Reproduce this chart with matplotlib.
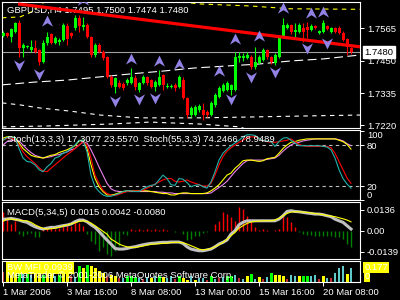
import matplotlib
matplotlib.use("Agg")
import matplotlib.pyplot as plt
import matplotlib.transforms as mtransforms
from matplotlib.path import Path

plt.rcParams['font.family'] = ['Liberation Sans', 'DejaVu Sans']
FS = 6.8

# GBPUSD H4 candles
opens = [1.7538, 1.7548, 1.7534, 1.7552, 1.7584, 1.7495, 1.7499, 1.7488, 1.7495, 1.7488,
         1.7445, 1.7513, 1.7545, 1.7513, 1.7516, 1.7523, 1.7573, 1.7548, 1.7566, 1.7602,
         1.7570, 1.7577, 1.7534, 1.7470, 1.7506, 1.7481, 1.7463, 1.7392, 1.7357, 1.7371,
         1.7367, 1.7371, 1.7371, 1.7389, 1.7346, 1.7371, 1.7392, 1.7381, 1.7357, 1.7364,
         1.7399, 1.7357, 1.7357, 1.7364, 1.7357, 1.7381, 1.7318, 1.7257, 1.7257, 1.7275,
         1.7275, 1.7268, 1.7257, 1.7293, 1.7321, 1.7342, 1.7346, 1.7346, 1.7346, 1.7460,
         1.7460, 1.7460, 1.7463, 1.7428, 1.7442, 1.7452, 1.7488, 1.7463, 1.7442, 1.7463,
         1.7534, 1.7566, 1.7577, 1.7552, 1.7552, 1.7566, 1.7570, 1.7559, 1.7573, 1.7548,
         1.7552, 1.7573, 1.7552, 1.7566, 1.7566, 1.7548, 1.7527, 1.7495]
highs = [1.7555, 1.7552, 1.7566, 1.7587, 1.7594, 1.7513, 1.7506, 1.7523, 1.7523, 1.7492,
         1.7523, 1.7552, 1.7548, 1.7538, 1.7531, 1.7584, 1.7584, 1.7552, 1.7612, 1.7612,
         1.7605, 1.7584, 1.7538, 1.7513, 1.7513, 1.7488, 1.7467, 1.7399, 1.7392, 1.7381,
         1.7374, 1.7389, 1.7424, 1.7399, 1.7374, 1.7399, 1.7396, 1.7385, 1.7381, 1.7417,
         1.7403, 1.7371, 1.7367, 1.7371, 1.7399, 1.7392, 1.7321, 1.7289, 1.7293, 1.7296,
         1.7300, 1.7275, 1.7307, 1.7335, 1.7360, 1.7371, 1.7378, 1.7367, 1.7481, 1.7481,
         1.7477, 1.7481, 1.7470, 1.7499, 1.7470, 1.7495, 1.7492, 1.7467, 1.7477, 1.7538,
         1.7602, 1.7584, 1.7580, 1.7584, 1.7584, 1.7584, 1.7587, 1.7580, 1.7577, 1.7559,
         1.7594, 1.7577, 1.7570, 1.7570, 1.7573, 1.7555, 1.7531, 1.7500]
lows = [1.7534, 1.7534, 1.7516, 1.7548, 1.7463, 1.7463, 1.7495, 1.7481, 1.7477, 1.7435,
        1.7442, 1.7506, 1.7509, 1.7509, 1.7506, 1.7520, 1.7506, 1.7531, 1.7559, 1.7552,
        1.7559, 1.7531, 1.7463, 1.7463, 1.7477, 1.7452, 1.7389, 1.7357, 1.7335, 1.7353,
        1.7346, 1.7364, 1.7367, 1.7346, 1.7340, 1.7367, 1.7364, 1.7353, 1.7343, 1.7360,
        1.7346, 1.7353, 1.7353, 1.7343, 1.7353, 1.7314, 1.7247, 1.7250, 1.7253, 1.7268,
        1.7240, 1.7250, 1.7253, 1.7286, 1.7318, 1.7339, 1.7342, 1.7328, 1.7342, 1.7445,
        1.7449, 1.7456, 1.7421, 1.7421, 1.7438, 1.7449, 1.7456, 1.7438, 1.7435, 1.7460,
        1.7531, 1.7563, 1.7545, 1.7534, 1.7548, 1.7516, 1.7531, 1.7555, 1.7563, 1.7545,
        1.7548, 1.7559, 1.7548, 1.7548, 1.7545, 1.7520, 1.7470, 1.7474]
closes = [1.7548, 1.7538, 1.7563, 1.7584, 1.7495, 1.7506, 1.7502, 1.7499, 1.7481, 1.7445,
          1.7513, 1.7534, 1.7513, 1.7531, 1.7523, 1.7577, 1.7527, 1.7538, 1.7602, 1.7573,
          1.7577, 1.7534, 1.7470, 1.7506, 1.7481, 1.7460, 1.7392, 1.7364, 1.7389, 1.7357,
          1.7353, 1.7381, 1.7392, 1.7357, 1.7371, 1.7392, 1.7371, 1.7357, 1.7374, 1.7392,
          1.7364, 1.7360, 1.7360, 1.7353, 1.7392, 1.7318, 1.7257, 1.7282, 1.7286, 1.7289,
          1.7257, 1.7257, 1.7300, 1.7328, 1.7353, 1.7364, 1.7371, 1.7364, 1.7463, 1.7467,
          1.7467, 1.7470, 1.7428, 1.7445, 1.7463, 1.7488, 1.7463, 1.7445, 1.7470, 1.7531,
          1.7577, 1.7577, 1.7552, 1.7559, 1.7577, 1.7552, 1.7559, 1.7573, 1.7566, 1.7555,
          1.7584, 1.7563, 1.7566, 1.7552, 1.7548, 1.7523, 1.7499, 1.7480]

# fractals (bar index, price)
frac_up_i = [11, 20, 32, 39, 44, 54, 58, 64, 70, 77, 80]
frac_up_p = [1.7587, 1.7662, 1.7452, 1.7445, 1.7435, 1.7410, 1.7523, 1.7534, 1.7634, 1.7616, 1.7619]
frac_dn_i = [4, 9, 28, 34, 38, 57, 62, 68, 76, 81]
frac_dn_p = [1.7438, 1.7406, 1.7311, 1.7318, 1.7321, 1.7318, 1.7396, 1.7413, 1.7499, 1.7516]

# trend line and bands
trend_i = [3.75, 89.25]
trend_p = [1.7651, 1.7499]
upper_i = [-0.25, 4.25, 6.75, 9.25, 12.0, 31.0, 49.25, 61.75, 71.75, 89.25]
upper_p = [1.7602, 1.7605, 1.7620, 1.7645, 1.7680, 1.7680, 1.7651, 1.7644, 1.7634, 1.7632]
mid_i = [-0.25, 8, 16, 24, 32, 40, 48, 56, 64, 72, 80, 89.25]
mid_p = [1.7364, 1.7374, 1.7381, 1.7392, 1.7403, 1.7413, 1.7424, 1.7431, 1.7438, 1.7449, 1.7456, 1.7470]
low1_i = [-0.25, 4.25, 9.25, 16.75, 24.25, 34.25, 49.25, 61.75, 76.75, 89.25]
low1_p = [1.7300, 1.7293, 1.7282, 1.7271, 1.7257, 1.7247, 1.7247, 1.7250, 1.7254, 1.7257]
low2_i = [-0.25, 10.5, 26.75, 36.75, 49.25, 59.25, 62.0]
low2_p = [1.7215, 1.7218, 1.7225, 1.7232, 1.7225, 1.7215, 1.7200]
last_price = 1.7480
price_ticks = [1.7565, 1.7450, 1.7335, 1.7220]

# stochastics
stoch13_main = [87, 91, 92, 91, 75, 61, 56, 55, 51, 44,
                41, 48, 53, 61, 63, 68, 70, 75, 80, 87,
                87, 70, 36, 19, 12, 7, 5, 5, 7, 9,
                12, 13, 13, 12, 12, 16, 19, 21, 22, 29,
                36, 31, 22, 21, 31, 30, 25, 19, 21, 22,
                19, 17, 26, 41, 58, 68, 74, 79, 83, 87,
                92, 95, 95, 94, 90, 86, 86, 85, 78, 85,
                90, 91, 87, 83, 79, 79, 79, 79, 79, 79,
                78, 77, 73, 61, 44, 31, 23, 17]
stoch13_sig = [87, 90, 91, 87, 80, 70, 63, 58, 53, 47,
               42, 41, 46, 51, 56, 61, 66, 70, 75, 80,
               85, 80, 61, 36, 24, 14, 9, 7, 6, 8,
               10, 12, 13, 13, 13, 14, 17, 20, 23, 26,
               29, 31, 31, 27, 26, 27, 29, 26, 24, 22,
               20, 20, 24, 36, 51, 63, 71, 76, 80, 84,
               87, 91, 92, 92, 90, 86, 85, 84, 84, 85,
               86, 87, 89, 85, 81, 79, 78, 78, 78, 78,
               78, 78, 76, 68, 56, 44, 32, 24]
stoch55_main = [90, 92, 92, 91, 83, 75, 70, 65, 63, 62,
                61, 63, 65, 66, 69, 71, 73, 76, 79, 86,
                87, 75, 51, 31, 19, 12, 7, 7, 8, 10,
                12, 13, 13, 13, 13, 13, 13, 12, 11, 10,
                9, 9, 7, 7, 9, 10, 10, 9, 9, 9,
                9, 10, 13, 17, 22, 29, 36, 39, 46, 51,
                57, 58, 58, 57, 56, 57, 60, 61, 62, 68,
                75, 80, 84, 85, 87, 88, 89, 89, 89, 89,
                89, 89, 89, 89, 87, 85, 81, 74]
stoch55_sig = [80, 85, 87, 87, 86, 80, 74, 69, 65, 63,
               61, 62, 63, 65, 66, 68, 70, 73, 75, 80,
               84, 83, 73, 61, 48, 36, 24, 16, 13, 12,
               12, 12, 12, 12, 12, 12, 12, 12, 12, 11,
               11, 10, 10, 9, 9, 9, 9, 9, 9, 9,
               9, 9, 10, 14, 18, 22, 27, 34, 41, 47,
               53, 57, 58, 58, 58, 58, 59, 60, 61, 65,
               71, 76, 80, 83, 84, 86, 87, 88, 89, 89,
               89, 89, 89, 89, 88, 86, 82, 79]

# MACD(5,34,5)
macd_hist = [0.0120, 0.0087, 0.0044, 0.0065, -0.0022, -0.0033, -0.0022, -0.0017, -0.0039, -0.0044,
             0.0011, 0.0017, 0.0022, 0.0011, 0.0017, 0.0033, 0.0044, 0.0033, 0.0055, 0.0048,
             0.0033, -0.0022, -0.0065, -0.0087, -0.0131, -0.0109, -0.0153, -0.0164, -0.0131, -0.0098,
             -0.0022, -0.0026, 0.0011, 0.0007, 0.0011, 0.0004, 0.0009, 0.0004, 0.0011, 0.0007,
             0.0011, 0.0004, -0.0004, -0.0007, -0.0004, -0.0022, -0.0061, -0.0055, -0.0033, -0.0033,
             -0.0017, -0.0011, -0.0004, 0.0044, 0.0065, 0.0120, 0.0109, 0.0087, 0.0065, 0.0153,
             0.0142, 0.0098, 0.0055, 0.0022, 0.0004, 0.0011, 0.0004, -0.0004, 0.0004, 0.0011,
             0.0109, 0.0087, 0.0055, 0.0022, -0.0011, -0.0022, -0.0026, -0.0031, -0.0033, -0.0033,
             -0.0033, -0.0033, -0.0037, -0.0039, -0.0044, -0.0055, -0.0087, -0.0109]
macd_main = [0.0076, 0.0076, 0.0081, 0.0076, 0.0070, 0.0061, 0.0055, 0.0039, 0.0026, 0.0017,
             0.0011, 0.0017, 0.0022, 0.0022, 0.0028, 0.0033, 0.0037, 0.0044, 0.0059, 0.0070,
             0.0070, 0.0059, 0.0039, 0.0022, -0.0004, -0.0033, -0.0061, -0.0087, -0.0116, -0.0120,
             -0.0120, -0.0116, -0.0109, -0.0105, -0.0098, -0.0092, -0.0087, -0.0083, -0.0081, -0.0078,
             -0.0076, -0.0076, -0.0074, -0.0074, -0.0074, -0.0083, -0.0105, -0.0120, -0.0126, -0.0131,
             -0.0131, -0.0126, -0.0120, -0.0105, -0.0087, -0.0076, -0.0061, -0.0022, 0.0000, 0.0039,
             0.0055, 0.0065, 0.0065, 0.0065, 0.0065, 0.0065, 0.0065, 0.0065, 0.0065, 0.0076,
             0.0098, 0.0126, 0.0131, 0.0126, 0.0124, 0.0120, 0.0116, 0.0113, 0.0109, 0.0109,
             0.0105, 0.0098, 0.0092, 0.0076, 0.0065, 0.0055, 0.0033, 0.0011]
macd_signal = [0.0061, 0.0076, 0.0076, 0.0072, 0.0070, 0.0065, 0.0065, 0.0055, 0.0039, 0.0026,
               0.0015, 0.0011, 0.0013, 0.0017, 0.0022, 0.0031, 0.0037, 0.0044, 0.0052, 0.0061,
               0.0065, 0.0061, 0.0050, 0.0033, 0.0015, -0.0004, -0.0022, -0.0055, -0.0070, -0.0087,
               -0.0098, -0.0105, -0.0109, -0.0109, -0.0105, -0.0100, -0.0094, -0.0089, -0.0087, -0.0085,
               -0.0083, -0.0081, -0.0078, -0.0076, -0.0076, -0.0078, -0.0087, -0.0098, -0.0109, -0.0120,
               -0.0126, -0.0122, -0.0116, -0.0105, -0.0092, -0.0076, -0.0055, -0.0033, -0.0011, 0.0017,
               0.0033, 0.0048, 0.0057, 0.0061, 0.0063, 0.0065, 0.0065, 0.0065, 0.0070, 0.0081,
               0.0098, 0.0113, 0.0122, 0.0124, 0.0124, 0.0122, 0.0120, 0.0116, 0.0113, 0.0109,
               0.0105, 0.0100, 0.0096, 0.0092, 0.0085, 0.0078, 0.0070, 0.0058]

# BW MFI
mfi_vals = [0.09, 0.08, 0.10, 0.09, 0.17, 0.07, 0.08, 0.06, 0.09, 0.10,
            0.06, 0.07, 0.08, 0.05, 0.06, 0.09, 0.07, 0.05, 0.04, 0.142,
            0.127, 0.158, 0.142, 0.127, 0.096, 0.081, 0.050, 0.065, 0.050, 0.034,
            0.034, 0.050, 0.056, 0.043, 0.034, 0.025, 0.043, 0.034, 0.050, 0.056,
            0.043, 0.034, 0.050, 0.025, 0.050, 0.034, 0.019, 0.050, 0.012, 0.034,
            0.034, 0.019, 0.056, 0.025, 0.034, 0.043, 0.050, 0.056, 0.065, 0.034,
            0.025, 0.056, 0.074, 0.025, 0.043, 0.025, 0.043, 0.081, 0.065, 0.065,
            0.056, 0.025, 0.065, 0.050, 0.056, 0.050, 0.056, 0.056, 0.065, 0.025,
            0.056, 0.034, 0.034, 0.081, 0.127, 0.142, 0.074, 0.127]
mfi_kind = ("ryyygbgbyy" "gyybgyyrbg" "ygyyyyryyr" "bgggbrbybg" "ybbrgyybyb"
            "brgbrbggbr" "bygbyrbgyy" "yrbbyggbbr" "ybrbbbyb")

tick_idx = [0, 16, 32, 48, 64, 80]
tick_labels = ['1 Mar 2006', '3 Mar 16:00', '8 Mar 08:00', '13 Mar 00:00', '15 Mar 16:00', '20 Mar 08:00']

n = len(closes)
idx = list(range(n))

fig = plt.figure(figsize=(4, 3), dpi=100, facecolor='black')


def panel(top, bottom):
    ax = fig.add_axes([2 / 400, (300 - bottom) / 300, 358 / 400, (bottom - top) / 300])
    ax.set_facecolor('black')
    for s in ax.spines.values():
        s.set_color('white')
        s.set_linewidth(0.8)
    ax.set_xlim(-0.25, 89.25)
    ax.tick_params(axis='x', bottom=False, labelbottom=False)
    ax.yaxis.tick_right()
    ax.tick_params(axis='y', colors='white', labelsize=FS, length=3, width=0.7, pad=2)
    return ax


ax1 = panel(2, 128)
ax2 = panel(130, 200)
ax3 = panel(202, 259)
ax4 = panel(261, 282)

# main chart
ax1.set_ylim(1.7211, 1.7658)
ax1.set_yticks(price_ticks)
ax1.set_yticklabels(['%.4f' % p for p in price_ticks])
ax1.axhline(last_price, color='#a0a0a0', lw=0.8, zorder=1)
ax1.plot(upper_i, upper_p, color='#ffff00', lw=0.8, ls=(0, (4, 4)), zorder=2)
ax1.plot(mid_i, mid_p, color='white', lw=0.8, ls=(0, (8, 4)), zorder=2)
ax1.plot(low1_i, low1_p, color='white', lw=0.8, ls=(0, (4, 4)), zorder=2)
ax1.plot(low2_i, low2_p, color='white', lw=0.8, ls=(0, (4, 4)), zorder=2)

for i in idx:
    col = '#00ff00' if closes[i] >= opens[i] else '#ff0000'
    ax1.vlines(i, lows[i], highs[i], color=col, lw=0.8, zorder=3)
    lo = min(opens[i], closes[i])
    h = max(abs(closes[i] - opens[i]), 0.0003)
    ax1.bar(i, h, bottom=lo, width=0.75, color=col, linewidth=0, zorder=3)

ax1.text(0.014, 0.935, 'GBPUSD,H4 1.7495 1.7500 1.7474 1.7480', transform=ax1.transAxes,
         color='white', fontsize=FS, va='center', zorder=2)
ax1.plot(trend_i, trend_p, color='#ff0000', lw=2.3, zorder=4, solid_capstyle='butt')

up_arrow = Path([(0, 1), (0.8, -0.6), (0, -0.1), (-0.8, -0.6), (0, 1)],
                [Path.MOVETO, Path.LINETO, Path.LINETO, Path.LINETO, Path.CLOSEPOLY])
dn_arrow = Path([(0, -1), (0.8, 0.6), (0, 0.1), (-0.8, 0.6), (0, -1)],
                [Path.MOVETO, Path.LINETO, Path.LINETO, Path.LINETO, Path.CLOSEPOLY])
ax1.plot(frac_up_i, frac_up_p, ls='none', marker=up_arrow, ms=10, color='#9282e6', mec='none', zorder=5)
ax1.plot(frac_dn_i, frac_dn_p, ls='none', marker=dn_arrow, ms=10, color='#9282e6', mec='none', zorder=5)

tr1 = mtransforms.blended_transform_factory(ax1.transAxes, ax1.transData)
ax1.text(1.012, last_price, '%.4f' % last_price, transform=tr1, color='black', fontsize=FS,
         va='center', ha='left', clip_on=False, zorder=10,
         bbox=dict(facecolor='white', edgecolor='white', pad=1.0))

# stochastics
ax2.set_ylim(-0.4, 102)
ax2.axhline(80, color='#c0c0c0', lw=0.8, ls=(0, (3, 3)))
ax2.axhline(20, color='#c0c0c0', lw=0.8, ls=(0, (3, 3)))
ax2.plot(idx, stoch55_sig, color='#ee82ee', lw=0.8)
ax2.plot(idx, stoch55_main, color='#ffff00', lw=0.8)
ax2.plot(idx, stoch13_sig, color='#ff0000', lw=0.8)
ax2.plot(idx, stoch13_main, color='#20b2aa', lw=0.8)
ax2.set_yticks([100, 80, 20, 0])
ax2.set_yticklabels(['100', '80', '20', '0'])
labs = ax2.get_yticklabels()
labs[0].set_va('top')
labs[3].set_va('bottom')
ax2.text(0.014, 0.86, 'Stoch(13,3,3) 17.3077 23.5570  Stoch(55,3,3) 74.2466 78.9489',
         transform=ax2.transAxes, color='white', fontsize=FS, va='center')

# MACD
ax3.set_ylim(-0.0185, 0.0188)
hist_cols = ['#ff0000' if v >= 0 else '#008000' for v in macd_hist]
ax3.vlines(idx, 0, macd_hist, colors=hist_cols, lw=1.0)
ax3.plot(idx, macd_main, color='#c0c0c0', lw=2.2)
ax3.plot(idx, macd_signal, color='#ffff00', lw=0.8)
ax3.set_yticks([0.0136, 0.0, -0.0139])
ax3.set_yticklabels(['0.0136', '0.00', '-0.0139'])
ax3.text(0.014, 0.82, 'MACD(5,34,5) 0.0015 0.0042 -0.0080', transform=ax3.transAxes,
         color='white', fontsize=FS, va='center')

# BW MFI
mfi_colors = {'g': '#00ff00', 'y': '#ffff00', 'b': '#5fc8c8', 'r': '#c03030'}
for i in idx:
    k = mfi_kind[i]
    w = 0.75 if k in 'gy' else 0.3
    ax4.bar(i, mfi_vals[i], width=w, color=mfi_colors[k], linewidth=0)
ax4.set_ylim(-0.004, 0.192)
ax4.set_yticks([])
ax4.text(0.014, 0.68, 'BW MFI 0.0939', transform=ax4.transAxes, color='white', fontsize=FS,
         va='center', zorder=5, bbox=dict(facecolor='#ffff00', edgecolor='none', pad=1.0))
ax4.text(0.014, 0.32, 'MetaTrader © 2001-2006 MetaQuotes Software Corp.', transform=ax4.transAxes,
         color='white', fontsize=FS, va='center', zorder=6)
ax4.text(1.012, 0.68, '0.177', transform=ax4.transAxes, color='white', fontsize=FS, va='center',
         clip_on=False, bbox=dict(facecolor='#ffff00', edgecolor='none', pad=0.8))
ax4.text(1.012, 0.26, '0', transform=ax4.transAxes, color='white', fontsize=FS, va='center',
         clip_on=False, bbox=dict(facecolor='#ffff00', edgecolor='none', pad=0.5))
ax4.tick_params(axis='x', bottom=True, labelbottom=True, colors='white', length=3, width=0.7,
                pad=1, labelsize=FS)
ax4.set_xticks(tick_idx)
ax4.set_xticklabels(tick_labels, ha='left')

fig.savefig('out.png', dpi=100, facecolor='black')
